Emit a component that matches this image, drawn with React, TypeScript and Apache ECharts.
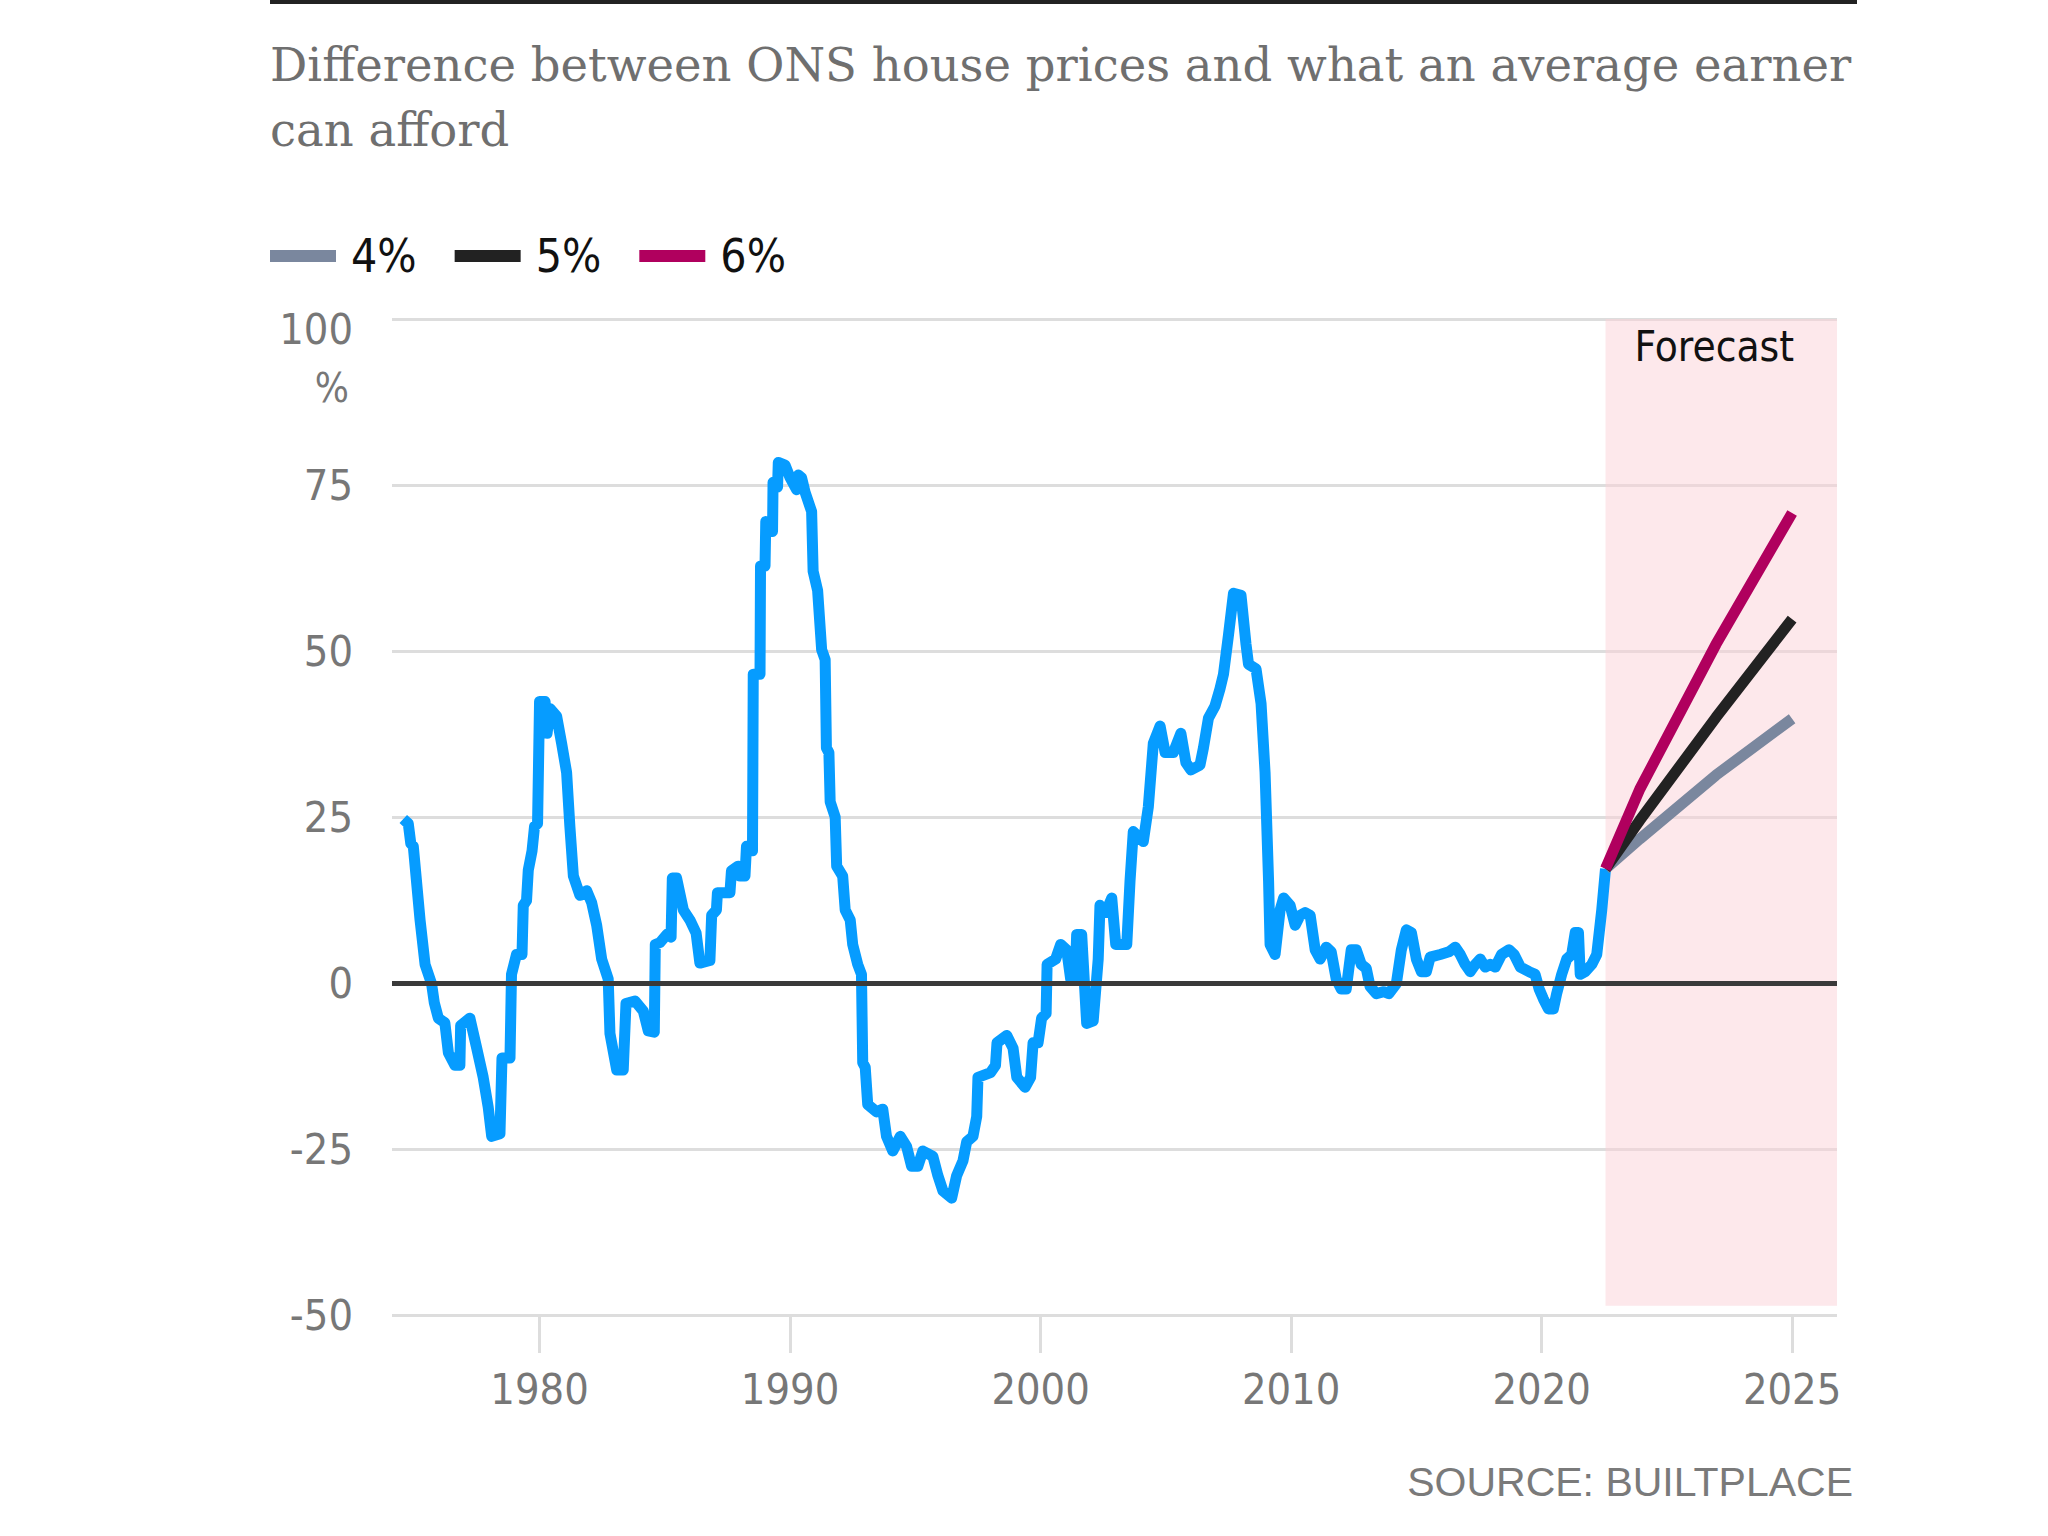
import React, { useEffect, useRef } from 'react';
import * as echarts from 'echarts';

const TITLE = 'Difference between ONS house prices and what an average earner\ncan afford';
const SOURCE = 'SOURCE: BUILTPLACE';
const FORECAST_LABEL = 'Forecast';
const UNIT_LABEL = '%';

// Historical series (year, % difference)
const histYears = [
  1974.56, 1974.76, 1974.86, 1974.96, 1975.23, 1975.43, 1975.69, 1975.8, 1975.96, 1976.22,
  1976.36, 1976.62, 1976.82, 1976.85, 1977.22, 1977.49, 1977.75, 1977.95, 1978.09, 1978.42,
  1978.5, 1978.82, 1978.88, 1979.08, 1979.3, 1979.35, 1979.48, 1979.55, 1979.7, 1979.8,
  1979.92, 1980.0, 1980.22, 1980.3, 1980.42, 1980.68, 1980.88, 1981.08, 1981.21, 1981.35,
  1981.61, 1981.88, 1982.08, 1982.28, 1982.48, 1982.74, 1982.81, 1983.08, 1983.34, 1983.45,
  1983.81, 1984.14, 1984.34, 1984.58, 1984.62, 1984.81, 1985.08, 1985.25, 1985.3, 1985.47,
  1985.74, 1986.0, 1986.25, 1986.4, 1986.8, 1986.87, 1987.06, 1987.1, 1987.6, 1987.66,
  1987.93, 1988.0, 1988.2, 1988.26, 1988.5, 1988.53, 1988.8, 1988.82, 1989.0, 1989.03,
  1989.3, 1989.32, 1989.5, 1989.53, 1989.8, 1990.0, 1990.26, 1990.33, 1990.46, 1990.6,
  1990.86, 1990.92, 1991.1, 1991.26, 1991.4, 1991.45, 1991.55, 1991.6, 1991.8, 1991.86,
  1992.1, 1992.2, 1992.4, 1992.5, 1992.7, 1992.85, 1992.9, 1993.0, 1993.1, 1993.45,
  1993.7, 1993.85, 1994.1, 1994.4, 1994.65, 1994.85, 1995.1, 1995.3, 1995.7, 1995.9,
  1996.1, 1996.45, 1996.65, 1996.9, 1997.05, 1997.3, 1997.45, 1997.5, 1998.0, 1998.2,
  1998.26, 1998.65, 1998.9, 1999.05, 1999.38, 1999.6, 1999.7, 1999.9, 2000.04, 2000.22,
  2000.26, 2000.6, 2000.8, 2001.04, 2001.2, 2001.38, 2001.44, 2001.64, 2001.84, 2002.1,
  2002.3, 2002.37, 2002.6, 2002.84, 2003.0, 2003.44, 2003.57, 2003.7, 2004.1, 2004.3,
  2004.5, 2004.77, 2004.97, 2005.3, 2005.6, 2005.8, 2006.0, 2006.36, 2006.5, 2006.7,
  2006.96, 2007.16, 2007.3, 2007.5, 2007.7, 2008.0, 2008.2, 2008.3, 2008.6, 2008.8,
  2008.96, 2009.1, 2009.16, 2009.36, 2009.56, 2009.7, 2009.96, 2010.16, 2010.36, 2010.56,
  2010.76, 2010.96, 2011.16, 2011.4, 2011.6, 2011.8, 2012.0, 2012.2, 2012.4, 2012.6,
  2012.8, 2013.0, 2013.15, 2013.4, 2013.7, 2013.9, 2014.2, 2014.4, 2014.6, 2014.8,
  2015.0, 2015.2, 2015.4, 2015.55, 2015.95, 2016.3, 2016.55, 2016.75, 2016.95, 2017.15,
  2017.35, 2017.55, 2017.75, 2017.95, 2018.15, 2018.4, 2018.7, 2018.9, 2019.15, 2019.5,
  2019.74, 2019.9, 2020.07, 2020.27, 2020.47, 2020.6, 2020.8, 2021.0, 2021.2, 2021.34,
  2021.47, 2021.54, 2021.74, 2022.0, 2022.2, 2022.4, 2022.55,
];
const histValues = [
  24.7, 24.0, 21.0, 20.6, 9.5, 2.8, -0.1, -3.0, -5.3, -6.0,
  -10.5, -12.4, -12.4, -6.4, -5.3, -9.8, -14.2, -18.7, -23.1, -22.7,
  -11.3, -11.3, 1.3, 4.3, 4.3, 11.7, 12.4, 17.0, 19.9, 23.6,
  24.0, 42.4, 42.4, 37.6, 41.3, 40.2, 36.1, 31.7, 23.6, 16.1,
  13.2, 13.9, 12.1, 8.7, 3.6, 0.6, -7.6, -13.1, -13.1, -3.1,
  -2.7, -4.2, -7.2, -7.4, 5.8, 6.1, 7.3, 6.9, 15.8, 15.8,
  11.0, 9.5, 7.5, 3.0, 3.4, 10.2, 11.0, 13.6, 13.6, 16.9,
  17.6, 16.1, 16.1, 20.6, 19.9, 46.5, 46.5, 62.8, 62.8, 69.5,
  68.0, 75.4, 74.7, 78.4, 78.0, 76.1, 74.3, 76.5, 76.1, 73.9,
  71.0, 62.0, 59.1, 50.2, 48.7, 35.4, 34.7, 27.3, 25.0, 17.6,
  16.1, 11.0, 9.5, 5.8, 2.8, 1.3, -12.0, -12.7, -18.3, -19.4,
  -19.0, -23.1, -25.3, -23.1, -24.6, -27.6, -27.6, -25.3, -26.1, -29.0,
  -31.3, -32.4, -29.0, -26.8, -23.9, -23.1, -20.1, -14.2, -13.5, -12.4,
  -9.0, -7.9, -9.8, -14.2, -15.7, -14.2, -9.0, -9.0, -5.3, -4.6,
  2.8, 3.6, 5.8, 5.0, 0.6, 0.6, 7.3, 7.3, -6.1, -5.7,
  3.6, 11.7, 10.6, 12.8, 5.8, 5.8, 15.4, 22.8, 21.3, 26.5,
  36.1, 38.7, 34.7, 34.7, 37.6, 33.2, 32.1, 32.8, 35.4, 39.9,
  41.7, 44.3, 46.5, 52.4, 58.7, 58.4, 51.0, 48.0, 47.3, 42.1,
  31.7, 15.4, 5.8, 4.3, 11.0, 12.8, 11.7, 8.7, 10.2, 10.6,
  10.2, 5.0, 3.6, 5.4, 4.7, 0.6, -0.9, -0.9, 5.0, 5.0,
  2.8, 2.2, -0.5, -1.6, -1.3, -1.6, -0.1, 5.0, 8.0, 7.6,
  3.6, 1.7, 1.7, 3.9, 4.3, 4.7, 5.4, 4.3, 2.8, 1.7,
  2.8, 3.6, 2.4, 2.8, 2.4, 4.3, 5.0, 4.3, 2.4, 1.7,
  1.3, -0.9, -2.4, -3.9, -3.9, -1.6, 1.3, 3.6, 4.3, 7.6,
  7.6, 1.3, 1.7, 2.8, 4.3, 11.0, 17.2,
];

// Forecast scenarios
const forecastYears = [2022.55, 2023, 2024, 2025];
const forecastNames = ['4%', '5%', '6%'];
const forecast4 = [17.2, 21.7, 31.3, 39.8];
const forecast5 = [17.2, 24.5, 40.0, 54.8];
const forecast6 = [17.2, 29.2, 51.0, 70.8];

const xTickYears = [1980, 1990, 2000, 2010, 2020, 2025];
const Y_MIN = -50;
const Y_MAX = 100;
const Y_STEP = 25;

// The forecast period is drawn on a stretched scale (2025 sits where 2030 would be).
const FORECAST_START = 2022.55;
const FORECAST_STRETCH = 3.04;
const displayX = (year: number) =>
  year <= FORECAST_START ? year : FORECAST_START + (year - FORECAST_START) * FORECAST_STRETCH;

const X_MIN = 1974.11;
const X_MAX = 2031.79;
const SHADE_BOTTOM = -48.6;

const BLUE = '#069cff';
const COLORS = ['#7a879e', '#222222', '#b0005e'];
const NARROW = "'Liberation Sans Narrow', 'DejaVu Sans Condensed', sans-serif";

export default function App() {
  const ref = useRef<HTMLDivElement>(null);

  useEffect(() => {
    document.body.style.margin = '0';
    document.body.style.overflow = 'hidden';
    const chart = echarts.init(ref.current!, undefined, { renderer: 'svg' });

    const tickPositions = xTickYears.map(displayX);
    const forecastData = [forecast4, forecast5, forecast6];

    chart.setOption({
      animation: false,
      backgroundColor: '#ffffff',
      title: {
        text: TITLE,
        left: 270,
        top: 32,
        padding: 0,
        textStyle: {
          fontFamily: "'DejaVu Serif', serif",
          fontSize: 46.5,
          lineHeight: 65,
          fontWeight: 'normal',
          color: '#6f6f6f',
        },
      },
      legend: {
        left: 270,
        top: 233,
        padding: 0,
        itemWidth: 66,
        itemHeight: 12,
        itemGap: 38,
        icon: 'rect',
        data: forecastNames,
        textStyle: {
          fontFamily: NARROW,
          fontSize: 46,
          color: '#111',
          padding: [0, 0, 0, 10],
        },
      },
      grid: { left: 392, right: 2048 - 1837, top: 319, bottom: 1536 - 1315, containLabel: false },
      xAxis: {
        type: 'value',
        min: X_MIN,
        max: X_MAX,
        axisLine: { show: false, onZero: false },
        splitLine: { show: false },
        axisTick: {
          show: true,
          length: 38,
          customValues: tickPositions,
          lineStyle: { color: '#dddddd', width: 3 },
        },
        axisLabel: {
          customValues: tickPositions,
          margin: 52,
          fontFamily: NARROW,
          fontSize: 43,
          color: '#777',
          formatter: (v: number) => {
            const i = tickPositions.findIndex((p) => Math.abs(p - v) < 0.01);
            return i >= 0 ? String(xTickYears[i]) : '';
          },
        },
      },
      yAxis: {
        type: 'value',
        min: Y_MIN,
        max: Y_MAX,
        interval: Y_STEP,
        axisLine: { show: false },
        axisTick: { show: false },
        splitLine: { lineStyle: { color: '#dddddd', width: 3 } },
        axisLabel: {
          margin: 39,
          fontFamily: NARROW,
          fontSize: 43,
          color: '#777',
          formatter: (v: number) => (v === Y_MAX ? '{top|' + v + '}' : String(v)),
          rich: {
            top: {
              fontFamily: NARROW,
              fontSize: 43,
              color: '#777',
              padding: [20, 0, 0, 0],
            },
          },
        },
      },
      series: [
        {
          name: 'ONS',
          type: 'line',
          data: histYears.map((y, i) => [displayX(y), histValues[i]]),
          showSymbol: false,
          symbol: 'none',
          lineStyle: { color: BLUE, width: 11, join: 'round' },
          z: 3,
          markArea: {
            silent: true,
            itemStyle: { color: '#fbd2d8', opacity: 0.5 },
            label: {
              show: true,
              position: 'insideTop',
              distance: 6,
              offset: [-7, 0],
              fontFamily: NARROW,
              fontSize: 42,
              color: '#111',
            },
            data: [
              [
                { name: FORECAST_LABEL, xAxis: displayX(FORECAST_START), yAxis: SHADE_BOTTOM },
                { xAxis: X_MAX, yAxis: Y_MAX },
              ],
            ],
          },
          markLine: {
            silent: true,
            symbol: 'none',
            label: { show: false },
            lineStyle: { color: '#3a3a3a', width: 5, type: 'solid' },
            data: [{ yAxis: 0 }],
          },
        },
        ...forecastNames.map((name, k) => ({
          name,
          type: 'line',
          data: forecastYears.map((y, i) => [displayX(y), forecastData[k][i]]),
          showSymbol: false,
          symbol: 'none',
          color: COLORS[k],
          lineStyle: { color: COLORS[k], width: 11 },
          z: 4 + k,
        })),
      ],
      graphic: [
        {
          type: 'rect',
          shape: { x: 270, y: 0, width: 1587, height: 4 },
          style: { fill: '#222' },
        },
        {
          type: 'text',
          x: 349,
          y: 388,
          style: {
            text: UNIT_LABEL,
            fontFamily: NARROW,
            fontSize: 40,
            fill: '#777',
            align: 'right',
            verticalAlign: 'middle',
          },
        },
        {
          type: 'text',
          x: 1853,
          y: 1482,
          style: {
            text: SOURCE,
            fontFamily: "'Liberation Sans', sans-serif",
            fontSize: 41,
            fill: '#7a7a7a',
            align: 'right',
            verticalAlign: 'middle',
          },
        },
      ],
    });

    return () => chart.dispose();
  }, []);

  return <div ref={ref} style={{ width: 2048, height: 1536 }} />;
}
